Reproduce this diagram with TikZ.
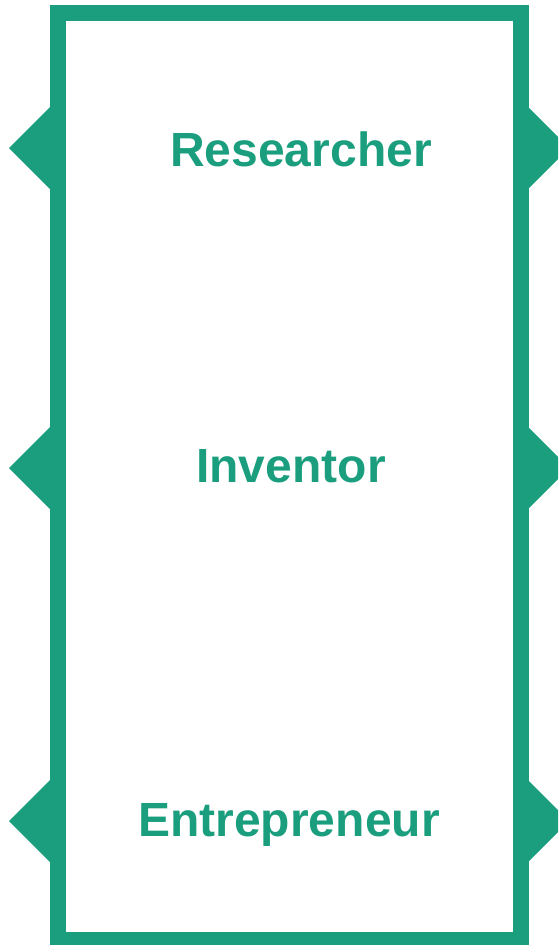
\documentclass[tikz,border=0pt]{standalone}
\usepackage{fontspec}
\setmainfont{Liberation Sans}
\definecolor{roleteal}{RGB}{26,158,126}

\newcommand*{\xleft}{58}
\newcommand*{\xright}{521}
\newcommand*{\ytop}{13}
\newcommand*{\ybottom}{940}

\begin{document}
\begin{tikzpicture}
[
	x=1pt, y=-1pt,
	frame/.style={draw=roleteal, line width=16pt},
	tab/.style={fill=roleteal},
	role/.style={text=roleteal, font=\fontsize{48}{57}\selectfont\bfseries, inner sep=0pt, anchor=base}
]

	\useasboundingbox (0,0) rectangle (558,945);
	\clip (0,0) rectangle (558,945);

	% frame
	\draw[frame] (\xleft,\ytop) rectangle (\xright,\ybottom);

	% tabs on both sides
	\foreach \y in {148,468,821} {
		\fill[tab] (\xleft,\y-49) -- (9,\y) -- (\xleft,\y+49) -- cycle;
		\fill[tab] (\xright,\y-48) -- (569,\y) -- (\xright,\y+48) -- cycle;
	}

	% roles
	\node[role] (researcher) at (301,166) {Researcher};
	\node[role] (inventor) at (291,482) {Inventor};
	\node[role] (entrepreneur) at (289,836) {Entrepreneur};

\end{tikzpicture}
\end{document}
